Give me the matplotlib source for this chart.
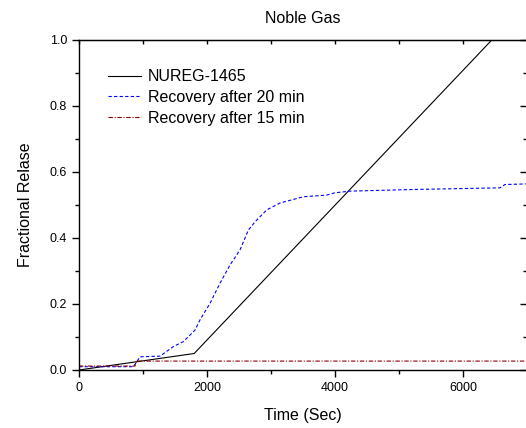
import matplotlib
matplotlib.use('Agg')
import matplotlib.pyplot as plt
from matplotlib.ticker import MultipleLocator

# NUREG-1465 model
nureg_t = [0, 1800, 6450]
nureg_f = [0.0, 0.05, 1.0]

# Recovery after 20 min
rec20_t = [0, 850, 953, 1266, 1474, 1630, 1813, 1891, 2047, 2203, 2359, 2516,
           2646, 2750, 2932, 3141, 3505, 3870, 4000, 4234, 5219, 6578, 6656, 7000]
rec20_f = [0.01, 0.01, 0.040, 0.042, 0.071, 0.086, 0.121, 0.152, 0.202, 0.263, 0.318, 0.364,
           0.424, 0.449, 0.485, 0.506, 0.525, 0.530, 0.537, 0.542, 0.547, 0.552, 0.562, 0.564]

# Recovery after 15 min
rec15_t = [0, 875, 900, 7000]
rec15_f = [0.012, 0.012, 0.027, 0.027]

plt.rcParams['font.family'] = ['Liberation Sans', 'DejaVu Sans']

fig = plt.figure(figsize=(5.26, 4.28), dpi=100)
ax = fig.add_axes([79 / 526, 58 / 428, 448 / 526, 330 / 428])

ax.plot(nureg_t, nureg_f, color='black', lw=0.8, label='NUREG-1465')
ax.plot(rec20_t, rec20_f, color='blue', lw=0.8, ls=(0, (3, 2)), label='Recovery after 20 min')
ax.plot(rec15_t, rec15_f, color='#8b0000', lw=0.8, ls=(0, (4, 1.5, 1, 1.5)), label='Recovery after 15 min')

ax.set_xlim(0, 7000)
ax.set_ylim(0, 1.0)
ax.xaxis.set_major_locator(MultipleLocator(2000))
ax.xaxis.set_minor_locator(MultipleLocator(1000))
ax.yaxis.set_major_locator(MultipleLocator(0.2))
ax.yaxis.set_minor_locator(MultipleLocator(0.1))
ax.yaxis.set_major_formatter(plt.FormatStrFormatter('%.1f'))

ax.tick_params(which='major', direction='out', length=5, width=1, labelsize=9)
ax.tick_params(which='minor', direction='out', length=3, width=1)

# inward ticks on top and right, Origin style
top = ax.secondary_xaxis('top')
top.xaxis.set_major_locator(MultipleLocator(1000))
top.tick_params(direction='in', length=3, width=1, labeltop=False)
right = ax.secondary_yaxis('right')
right.yaxis.set_major_locator(MultipleLocator(0.2))
right.yaxis.set_minor_locator(MultipleLocator(0.1))
right.tick_params(which='major', direction='in', length=5, width=1, labelright=False)
right.tick_params(which='minor', direction='in', length=3, width=1)

for s in ax.spines.values():
    s.set_linewidth(1)

ax.set_title('Noble Gas', fontsize=11.5, pad=12)
ax.set_xlabel('Time (Sec)', fontsize=11.5, labelpad=10)
ax.set_ylabel('Fractional Relase', fontsize=11.5, labelpad=12)

ax.legend(loc='upper left', bbox_to_anchor=(0.05, 0.93), frameon=False, fontsize=11.5,
          handlelength=2.1, handletextpad=0.4, labelspacing=0.35, borderaxespad=0)

fig.savefig('out.png', dpi=100)
